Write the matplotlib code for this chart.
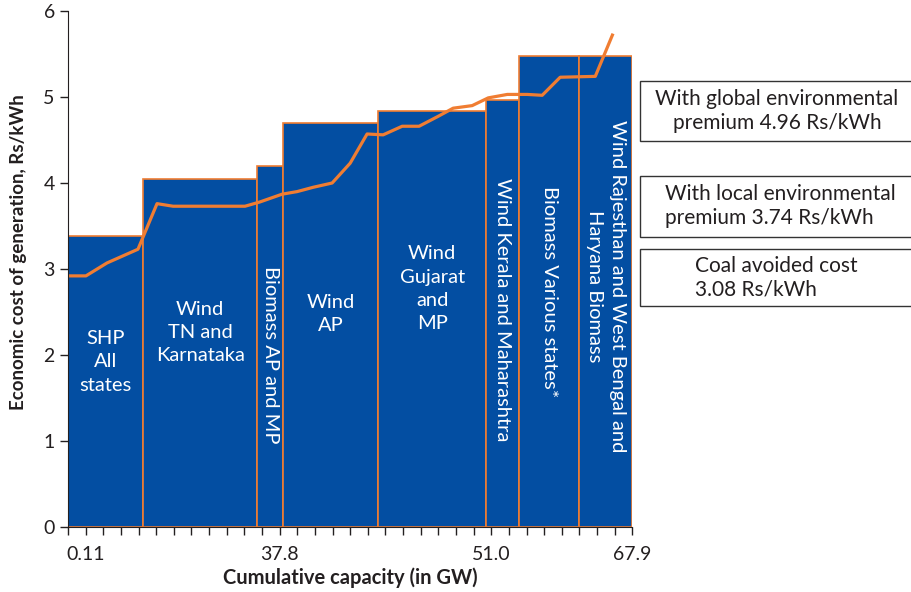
import numpy as np
import matplotlib.pyplot as plt
from matplotlib.patches import Rectangle

plt.rcParams['font.family'] = ['Lato', 'DejaVu Sans']

# bar segments (x in tick units along the capacity axis)
edges = [0, 4.26, 10.74, 12.2, 17.6, 23.7, 25.6, 29.0, 32.0]
costs = [3.38, 4.05, 4.20, 4.70, 4.84, 4.97, 5.48, 5.48]
labels = ['SHP\nAll\nstates', 'Wind\nTN and\nKarnataka', 'Biomass AP and MP', 'Wind\nAP',
          'Wind\nGujarat\nand\nMP', 'Wind Kerala and Maharashtra', 'Biomass Various states*',
          'Wind Rajesthan and West Bengal and\nHaryana Biomass']
label_y = [1.92, 2.26, 2.0, 2.48, 2.77, 2.53, 2.74, 2.8]
label_rot = [0, 0, 270, 0, 0, 270, 270, 270]

# orange cost curve
curve_x = [0, 1.02, 2.21, 3.97, 5.05, 5.96, 10.04, 10.89, 12.14, 12.99, 13.9, 14.98, 16.0,
           16.96, 17.87, 18.95, 19.91, 20.94, 21.84, 22.92, 23.83, 24.91, 26.04, 26.89,
           27.91, 29.9, 30.87]
curve_y = [2.92, 2.92, 3.07, 3.23, 3.76, 3.73, 3.73, 3.78, 3.87, 3.90, 3.95, 4.00, 4.23,
           4.57, 4.56, 4.66, 4.66, 4.77, 4.87, 4.90, 4.99, 5.03, 5.03, 5.02,
           5.23, 5.24, 5.72]

tick_pos = [1, 12, 24, 32]
tick_labels = ['0.11', '37.8', '51.0', '67.9']

boxes = ['With global environmental\npremium 4.96 Rs/kWh',
         'With local environmental\npremium 3.74 Rs/kWh',
         'Coal avoided cost\n3.08 Rs/kWh']

blue = '#034EA2'
orange = '#F07D32'
dark = '#231F20'

fig = plt.figure(figsize=(9.11, 5.92), dpi=100)
ax = fig.add_axes([0.0746, 0.1098, 0.6195, 0.8716])

lefts = edges[:-1]
widths = np.diff(edges)
ax.bar(lefts, costs, width=widths, align='edge', color=blue, edgecolor=orange, linewidth=1.2)
ax.plot(curve_x, curve_y, color=orange, linewidth=2.3)

for l, w, t, yy, r in zip(lefts, widths, labels, label_y, label_rot):
    ax.text(l + w / 2, yy, t, color='white', fontsize=14.5, ha='center', va='center',
            rotation=r, linespacing=1.45, multialignment='center')

ax.set_xlim(0, 32)
ax.set_ylim(0, 6)
ax.set_xticks(tick_pos)
ax.set_xticklabels(tick_labels)
ax.set_xticks(np.arange(0, 33), minor=True)
ax.set_yticks(range(7))
for s in ['top', 'right']:
    ax.spines[s].set_visible(False)
for s in ['left', 'bottom']:
    ax.spines[s].set_color(dark)
ax.tick_params(axis='both', which='both', colors=dark, labelsize=14, length=6, width=1)
ax.tick_params(axis='x', which='both', pad=8)
ax.set_xlabel('Cumulative capacity (in GW)', fontsize=14.5, fontweight='bold', color=dark, labelpad=3)
ax.set_ylabel('Economic cost of generation, Rs/kWh', fontsize=13.5, fontweight='bold', color=dark)
ax.yaxis.set_label_coords(-0.072, 0.533)

# annotation boxes on the right
box_rows = [(0.762, 0.863), (0.600, 0.703), (0.483, 0.579)]
text_x = [0.853, 0.730, 0.763]
text_ha = ['center', 'left', 'left']
for (y0, y1), t, tx, ha in zip(box_rows, boxes, text_x, text_ha):
    fig.patches.append(Rectangle((0.702, y0), 0.35, y1 - y0, transform=fig.transFigure,
                                 facecolor='white', edgecolor='#333333', linewidth=1))
    fig.text(tx, (y0 + y1) / 2, t, fontsize=15, color=dark, ha=ha, va='center',
             linespacing=1.25, multialignment=ha)

fig.savefig('out.png', dpi=100)
